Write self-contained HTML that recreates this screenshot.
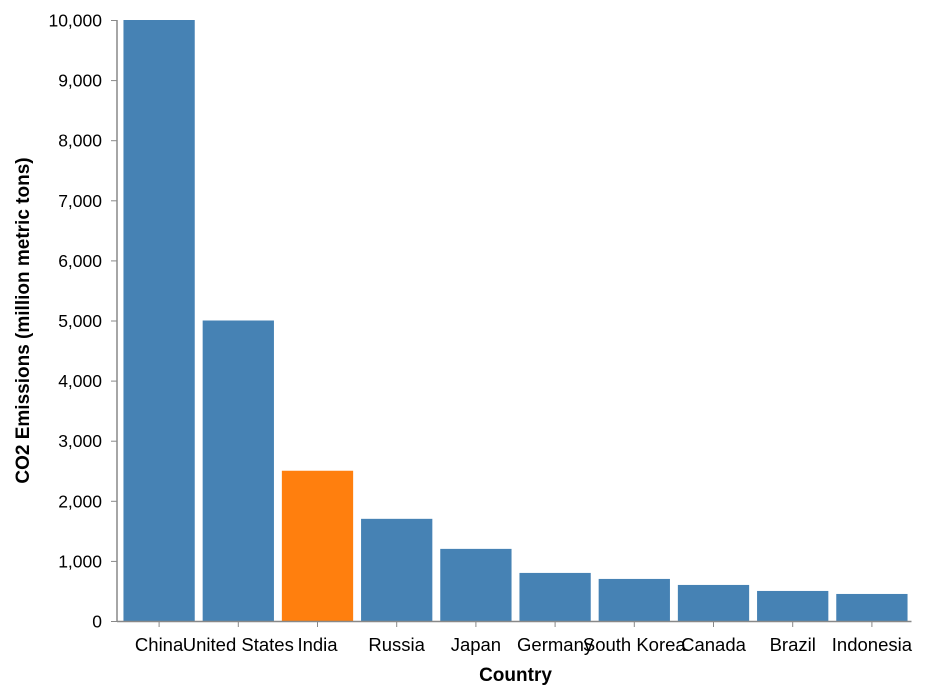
<!DOCTYPE html>
<html><head><meta charset="utf-8"><style>
body{margin:0;background:#fff;}
svg{font-family:"Liberation Sans",Arial,sans-serif;}
</style></head><body>
<svg id="chart" width="926" height="694"></svg>
<script>
const categories=["China","United States","India","Russia","Japan","Germany","South Korea","Canada","Brazil","Indonesia"];
const values=[10000,5000,2500,1700,1200,800,700,600,500,450];
const highlight=["India"];
const yTicks=[0,1000,2000,3000,4000,5000,6000,7000,8000,9000,10000];
const NS="http://www.w3.org/2000/svg";
const svg=document.getElementById('chart');
const x0=119.5,x1=911.5,yTop=20,yBot=621,yMax=10000,axX=117;
const step=(x1-x0)/categories.length;
function xs(i){return x0+step*i+step*0.05;}
const bw=step*0.9;
function ys(v){return yBot-(v/yMax)*(yBot-yTop);}
function el(t,a,p){const e=document.createElementNS(NS,t);for(const k in a)e.setAttribute(k,a[k]);(p||svg).appendChild(e);return e;}
yTicks.forEach(t=>{
  const y=ys(t)+0.5;
  const l=el('line',{x1:axX-6,x2:axX,y1:y,y2:y,stroke:'#888'});
  
  
  const tx=el('text',{x:axX-15,y:y+6,'text-anchor':'end','font-size':17.5,fill:'#000'});
  tx.textContent=t.toLocaleString('en-US');
  
  
});
categories.forEach((c,i)=>{
  const r=el('rect',{x:xs(i),y:ys(values[i]),width:bw,height:yBot-ys(values[i]),fill:highlight.includes(c)?'#ff7f0e':'#4682b4'});
  
  
  const cx=x0+step*(i+0.5);
  const tk=el('line',{x1:cx,x2:cx,y1:yBot,y2:yBot+6,stroke:'#888'});
  
  
  const tx=el('text',{x:cx,y:651,'text-anchor':'middle','font-size':18.5,fill:'#000'});
  tx.textContent=c;
  
  
});
const ya=el('line',{x1:axX,x2:axX,y1:yTop,y2:yBot+1,stroke:'#888','stroke-width':1.5});


const xa=el('line',{x1:axX,x2:x1,y1:yBot+0.5,y2:yBot+0.5,stroke:'#888','stroke-width':1.5});


const xt=el('text',{x:(x0+x1)/2,y:681,'text-anchor':'middle','font-size':19,'font-weight':'bold'});
xt.textContent='Country';


const yt=el('text',{transform:'translate(29,'+((yTop+yBot)/2)+') rotate(-90)','text-anchor':'middle','font-size':19,'font-weight':'bold'});
yt.textContent='CO2 Emissions (million metric tons)';


</script>
</body></html>
